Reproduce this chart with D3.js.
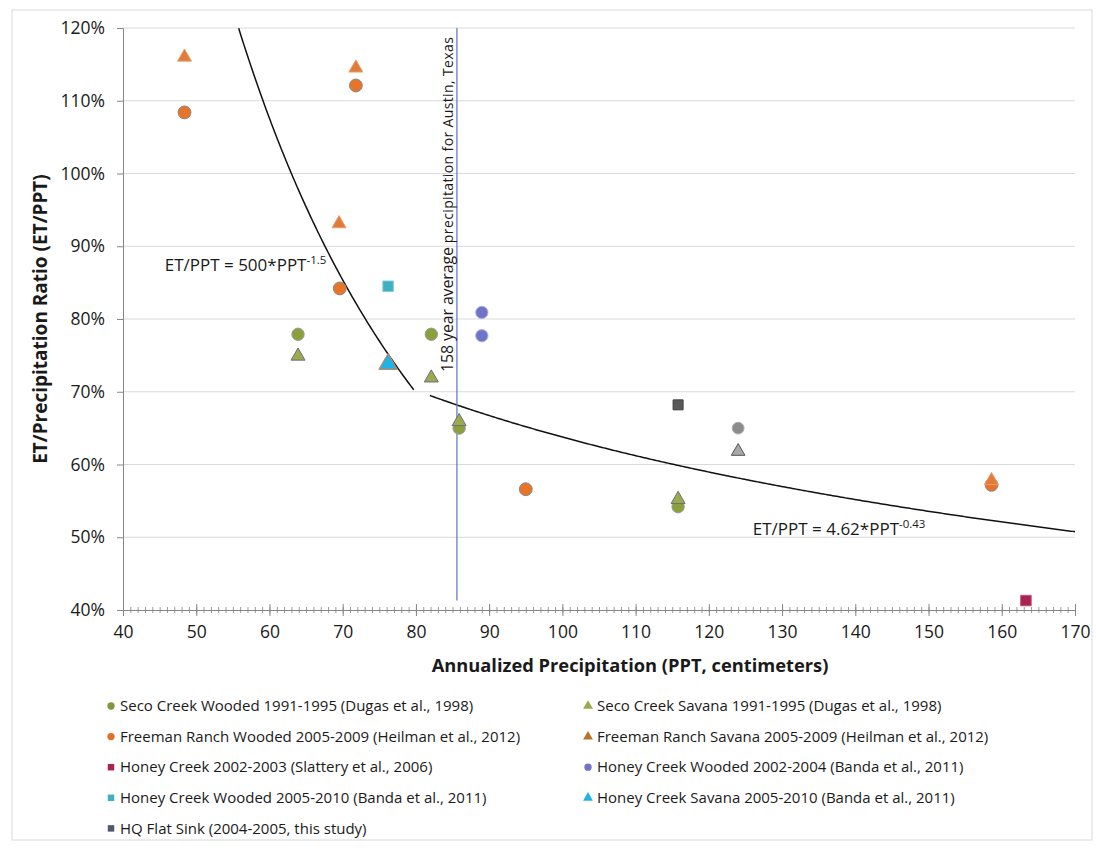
<!DOCTYPE html>
<html lang="en">
<head>
    <meta charset="UTF-8">
    <title>ET/PPT vs annualized precipitation</title>
    <script src="https://d3js.org/d3.v7.min.js"></script>
    <style>
        body, html {
            margin: 0;
            background-color: white;
            font-family: "Open Sans", sans-serif;
        }
        .grid line { stroke: #d9d9d9; }
        .legend text { font-size: 15px; fill: #1a1a1a; }
    </style>
</head>
<body>
    <svg id="chart"></svg>
    <script>
        // series: [precipitation cm, ET/PPT %]
        const secoWooded = [[63.9, 77.9], [82.1, 77.9], [85.9, 65.0], [115.8, 54.2]];
        const secoSavana = [[63.9, 74.9], [82.1, 71.9], [85.9, 65.9], [115.8, 55.2]];
        const freemanWooded = [[48.4, 108.4], [71.8, 112.1], [69.6, 84.2], [95.0, 56.6], [158.6, 57.2]];
        const freemanSavana = [[48.4, 116.0], [71.8, 114.5], [69.5, 93.1], [158.6, 57.8]];
        const honeySlattery = [[163.3, 41.3]];
        const honeyWooded0204 = [[89.0, 80.9], [89.0, 77.7]];
        const honeyWooded0510 = [[76.2, 84.5]];
        const honeySavana0510 = [[76.2, 73.8]];
        const hqFlatSink = [[115.8, 68.2]];
        const grayCircle = [[124.0, 65.0]];
        const grayTriangle = [[124.0, 61.8]];

        // fitted curves ET/PPT = a * PPT^b, drawn between x0 and x1
        const fitA = [500, 4.62];
        const fitB = [-1.5, -0.43];
        const fitFrom = [55.8, 81.9];
        const fitTo = [79.7, 170];

        const austinAverage = 85.6;

        const xTicks = d3.range(40, 171, 10);
        const yTicks = d3.range(40, 121, 10);

        const svgWidth = 1096, svgHeight = 850;
        const margin = { top: 28, right: 21, bottom: 240, left: 123 };
        const width = svgWidth - margin.left - margin.right;
        const height = svgHeight - margin.top - margin.bottom;

        const svg = d3.select("#chart")
            .attr("width", svgWidth)
            .attr("height", svgHeight);

        // outer frame
        svg.append("rect")
            .attr("x", 12).attr("y", 10)
            .attr("width", 1080).attr("height", 830)
            .attr("fill", "none")
            .attr("stroke", "#d9d9d9");

        const g = svg.append("g").attr("transform", `translate(${margin.left},${margin.top})`);

        const x = d3.scaleLinear().domain([40, 170]).range([0, width]);
        const y = d3.scaleLinear().domain([40, 120]).range([height, 0]);

        // gridlines
        g.append("g").attr("class", "grid")
            .selectAll("line")
            .data(yTicks.filter(d => d > 40))
            .enter().append("line")
            .attr("x1", 0).attr("x2", width)
            .attr("y1", d => y(d)).attr("y2", d => y(d));

        // y axis
        const yAxis = g.append("g")
            .call(d3.axisLeft(y).tickValues(yTicks).tickFormat(d => d + "%").tickSize(6).tickPadding(12));
        yAxis.select(".domain").attr("stroke", "#868686");
        yAxis.selectAll(".tick line").attr("stroke", "#868686");
        yAxis.selectAll("text").attr("font-size", 17.5).attr("fill", "#1a1a1a").attr("font-family", "'Open Sans', sans-serif");

        // x axis with minor ticks
        const xMinor = g.append("g")
            .attr("transform", `translate(0,${height})`)
            .call(d3.axisBottom(x).ticks(130).tickSize(3).tickFormat(""));
        xMinor.select(".domain").remove();
        xMinor.selectAll(".tick line").attr("stroke", "#9a9a9a").attr("y1", -3);

        const xAxis = g.append("g")
            .attr("transform", `translate(0,${height})`)
            .call(d3.axisBottom(x).tickValues(xTicks).tickSize(6).tickPadding(10));
        xAxis.select(".domain").attr("stroke", "#868686");
        xAxis.selectAll(".tick line").attr("stroke", "#868686").attr("y1", -6);
        xAxis.selectAll("text").attr("font-size", 17.5).attr("fill", "#1a1a1a").attr("font-family", "'Open Sans', sans-serif");

        // axis titles
        g.append("text")
            .attr("transform", `translate(-76,${height / 2}) rotate(-90)`)
            .attr("text-anchor", "middle")
            .attr("font-size", 19)
            .attr("font-weight", "bold")
            .attr("fill", "#1a1a1a")
            .text("ET/Precipitation Ratio (ET/PPT)");

        g.append("text")
            .attr("x", 630 - margin.left)
            .attr("y", height + 62)
            .attr("text-anchor", "middle")
            .attr("font-size", 18.3)
            .attr("font-weight", "bold")
            .attr("fill", "#1a1a1a")
            .text("Annualized Precipitation (PPT, centimeters)");

        // fitted curves
        const line = d3.line().x(d => x(d[0])).y(d => y(d[1]));
        fitA.forEach((a, i) => {
            const pts = d3.range(fitFrom[i], fitTo[i], 0.25).concat([fitTo[i]])
                .map(p => [p, 100 * a * Math.pow(p, fitB[i])]);
            g.append("path")
                .attr("d", line(pts))
                .attr("fill", "none")
                .attr("stroke", "#111")
                .attr("stroke-width", 1.5);
        });

        // Austin average precipitation line
        g.append("line")
            .attr("x1", x(austinAverage)).attr("x2", x(austinAverage))
            .attr("y1", 0).attr("y2", y(41.3))
            .attr("stroke", "#5b73c4")
            .attr("stroke-width", 1.2);

        const vText = g.append("text")
            .attr("transform", `translate(${x(austinAverage) - 4},${372 - margin.top}) rotate(-90)`)
            .attr("fill", "#1a1a1a");
        vText.append("tspan").attr("font-size", 16).attr("textLength", 129).text("158 year average ");
        vText.append("tspan").attr("font-size", 14).attr("textLength", 206).text("precipitation  for Austin, Texas");

        // equation labels
        function equation(px, py, coef, exp) {
            const t = g.append("text")
                .attr("x", x(px)).attr("y", y(py))
                .attr("font-size", 17)
                .attr("fill", "#1a1a1a");
            t.append("tspan").text(`ET/PPT = ${coef}*PPT`);
            t.append("tspan").attr("font-size", 11.5).attr("dy", -7).text(exp);
        }
        equation(45.7, 86.6, "500", "-1.5");
        equation(126.0, 50.3, "4.62", "-0.43");

        // markers
        const series = [
            { data: secoWooded, shape: d3.symbolCircle, size: 120, fill: "#8aa03a", stroke: "#9a9a9a" },
            { data: freemanWooded, shape: d3.symbolCircle, size: 130, fill: "#e8742a", stroke: "#8a8a8a" },
            { data: honeyWooded0204, shape: d3.symbolCircle, size: 120, fill: "#6f74c9", stroke: "#b0b4e0" },
            { data: grayCircle, shape: d3.symbolCircle, size: 110, fill: "#8c8c8c", stroke: "#b0b0b0" },
            { data: freemanSavana, shape: d3.symbolTriangle, size: 85, fill: "#e07b39", stroke: "#e8a070" },
            { data: secoSavana, shape: d3.symbolTriangle, size: 85, fill: "#9aaa4c", stroke: "#6e6e80" },
            { data: grayTriangle, shape: d3.symbolTriangle, size: 80, fill: "#a8a8a8", stroke: "#555" },
            { data: honeySlattery, shape: d3.symbolSquare, size: 110, fill: "#a8234f", stroke: "#c05070" },
            { data: honeyWooded0510, shape: d3.symbolSquare, size: 110, fill: "#3fb0c0", stroke: "#7fcad4" },
            { data: honeySavana0510, shape: d3.symbolTriangle, size: 150, fill: "#1fb4e6", stroke: "#f0783c" },
            { data: hqFlatSink, shape: d3.symbolSquare, size: 100, fill: "#595959", stroke: "#404040" }
        ];

        series.forEach(s => {
            g.selectAll(null)
                .data(s.data)
                .enter().append("path")
                .attr("d", d3.symbol().type(s.shape).size(s.size))
                .attr("transform", d => `translate(${x(d[0])},${y(d[1])})`)
                .attr("fill", s.fill)
                .attr("stroke", s.stroke)
                .attr("stroke-width", 1);
        });

        // legend
        const legendItems = [
            { label: "Seco Creek Wooded 1991-1995 (Dugas et al., 1998)", shape: d3.symbolCircle, fill: "#7f9a3a" },
            { label: "Seco Creek Savana 1991-1995 (Dugas et al., 1998)", shape: d3.symbolTriangle, fill: "#9aaa4c" },
            { label: "Freeman Ranch Wooded 2005-2009 (Heilman et al., 2012)", shape: d3.symbolCircle, fill: "#e0702a" },
            { label: "Freeman Ranch Savana 2005-2009 (Heilman et al., 2012)", shape: d3.symbolTriangle, fill: "#b8742e" },
            { label: "Honey Creek 2002-2003 (Slattery et al., 2006)", shape: d3.symbolSquare, fill: "#a8234f" },
            { label: "Honey Creek Wooded 2002-2004 (Banda et al., 2011)", shape: d3.symbolCircle, fill: "#6f74c9" },
            { label: "Honey Creek Wooded 2005-2010 (Banda et al., 2011)", shape: d3.symbolSquare, fill: "#3fb0c0" },
            { label: "Honey Creek Savana 2005-2010 (Banda et al., 2011)", shape: d3.symbolTriangle, fill: "#1fb4e6" },
            { label: "HQ Flat Sink (2004-2005, this study)", shape: d3.symbolSquare, fill: "#4f5a70" }
        ];

        const legend = svg.append("g").attr("class", "legend")
            .selectAll("g")
            .data(legendItems)
            .enter().append("g")
            .attr("transform", (d, i) => `translate(${i % 2 === 0 ? 111 : 588},${706 + Math.floor(i / 2) * 30.6})`);

        legend.append("path")
            .attr("d", d => d3.symbol().type(d.shape).size(42)())
            .attr("fill", d => d.fill);

        legend.append("text")
            .attr("x", 9)
            .attr("dy", "0.35em")
            .text(d => d.label);
    </script>
</body>
</html>
